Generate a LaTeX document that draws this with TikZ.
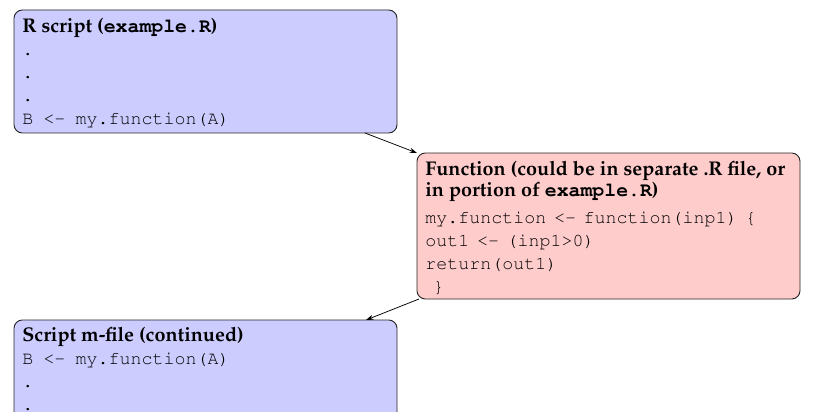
\documentclass[tikz,border=0pt]{standalone}
\usepackage[T1]{fontenc}
\usepackage{mathpazo}
\renewcommand\ttdefault{pcr}
\usetikzlibrary{arrows.meta}
\definecolor{boxblue}{RGB}{204,204,255}
\definecolor{boxred}{RGB}{255,204,204}
\newcommand\codeline[2][4.6pt]{{\ttfamily\fontsize{11}{13.8}\selectfont\spaceskip=#1\relax #2}}
\newcommand\headline[1]{{\bfseries\fontsize{11.9}{13.8}\selectfont #1}}
\tikzset{
  panel/.style={draw=black!85, line width=0.55pt, rounded corners=5pt, anchor=north west,
    minimum width=229.8pt, inner sep=0pt, outer sep=0pt},
  bluepanel/.style={panel, fill=boxblue},
  redpanel/.style={panel, fill=boxred},
  body/.style={anchor=north west, inner sep=0pt, align=left,
    font=\fontsize{11}{13.8}\selectfont},
  link/.style={-{Stealth[length=4.5pt,width=3pt]}, line width=0.45pt},
}
\begin{document}
\begin{tikzpicture}[x=0.6pt,y=-0.6pt]
\useasboundingbox (0,0) rectangle (813,411);
\fill[white] (0,0) rectangle (813,411);
% box 1
\node[bluepanel, minimum height=73.8pt] (b1) at (14,10) {};
\node[body] (t1) at (22,17.5) {\headline{R script (\texttt{example.R})}\\
\codeline{.}\\
\codeline{.}\\
\codeline{.}\\
\codeline[6.1pt]{B <- my.function(A)}};
% box 2
\node[redpanel, minimum height=87.6pt] (b2) at (417,153) {};
\node[body] (t2) at (425,161) {\headline{Function (could be in separate .R file, or}\\[-1.2pt]
\headline{in portion of \texttt{example.R})}\\[2.4pt]
\codeline{my.function <- function(inp1) \{}\\
\codeline{out1 <- (inp1>0)}\\
\codeline{return(out1)}\\
\codeline{\ \}}};
% box 3
\begin{scope}
\clip (0,0) rectangle (813,411);
\node[bluepanel, minimum height=73.8pt] (b3) at (14,320) {};
\node[body] (t3) at (22,326.5) {\headline{Script m-file (continued)}\\
\codeline[6.1pt]{B <- my.function(A)}\\
\codeline{.}\\
\codeline{.}};
\end{scope}
% connectors
\draw[link] ([xshift=-19.2pt]b1.south east) -- (b2.north west);
\draw[link] ([xshift=1.2pt]b2.south west) -- ([xshift=-18.6pt]b3.north east);
\end{tikzpicture}
\end{document}
